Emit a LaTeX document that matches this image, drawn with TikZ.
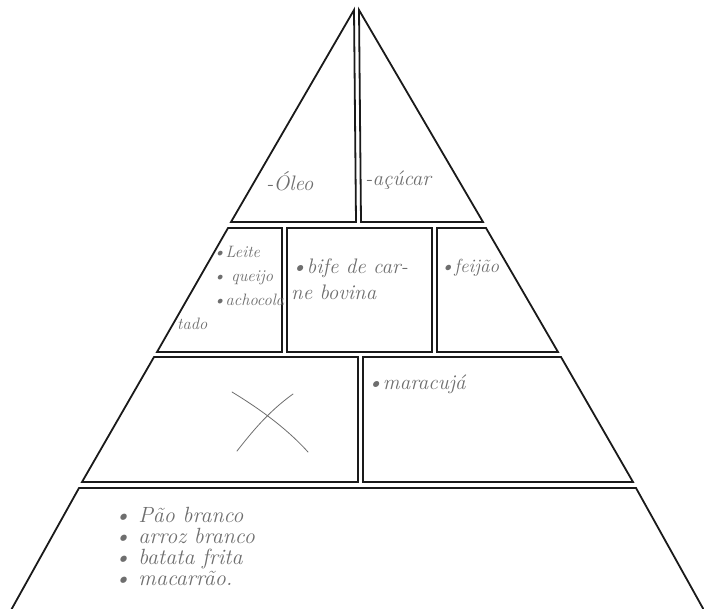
\documentclass[tikz,border=0pt]{standalone}
\usepackage{tikz}
\usetikzlibrary{positioning}
\definecolor{Pencil}{HTML}{6E6E6E}
\definecolor{Ink}{HTML}{1A1A1A}

\tikzset{
  block/.style={draw=Ink, line width=1.8pt, line join=miter},
  hand/.style={anchor=west, inner sep=0pt, text=Pencil, font=\fontsize{21}{26}\selectfont\itshape, align=left},
  smallhand/.style={hand, font=\fontsize{16.5}{24}\selectfont\itshape},
  cross/.style={draw=Pencil, line width=0.8pt, line cap=round}
}

\begin{document}
\begin{tikzpicture}[x=1pt,y=-1pt]
  \clip (0,0) rectangle (704,608);
  \fill[white] (0,0) rectangle (704,608);
  % top level
  \draw[block] (354,10) -- (231,222) -- (356,222) -- cycle;
  \draw[block] (359,10) -- (483,222) -- (361,222) -- cycle;
  % second level
  \draw[block] (228,228) -- (282,228) -- (282,352) -- (157,352) -- cycle;
  \draw[block] (287,228) rectangle (432,352);
  \draw[block] (437,228) -- (486,228) -- (558,352) -- (437,352) -- cycle;
  % third level
  \draw[block] (154,357) -- (358,357) -- (358,482) -- (82,482) -- cycle;
  \draw[block] (363,357) -- (561,357) -- (633,482) -- (363,482) -- cycle;
  % base
  \draw[block] (79,488) -- (636,488) -- (705,612) -- (10,612) -- cycle;

  % texts
  \node[hand] (oleo) at (266,181) {-Óleo};
  \node[hand] (acucar) at (365,180) {-açúcar};
  \node[smallhand] (leite) at (213,276) {\textbullet Leite\\ \textbullet\ queijo\\ \textbullet achocola};
  \node[smallhand] (tado) at (177,324) {tado};
  \node[hand] (bife) at (291,279) {\textbullet bife de car-\\ ne bovina};
  \node[hand, font=\fontsize{19}{24}\selectfont\itshape] (feijao) at (440,268) {\textbullet feijão};
  \node[hand] (maracuja) at (367,384) {\textbullet maracujá};
  \node[hand, font=\fontsize{22}{21}\selectfont\itshape] (base) at (114,546) {\textbullet\ Pão branco\\ \textbullet\ arroz branco\\ \textbullet\ batata frita\\ \textbullet\ macarrão.};

  % empty box mark
  \draw[cross] (232,392) .. controls (265,412) and (290,432) .. (308,452);
  \draw[cross] (293,394) .. controls (268,412) and (252,432) .. (237,451);
\end{tikzpicture}
\end{document}
